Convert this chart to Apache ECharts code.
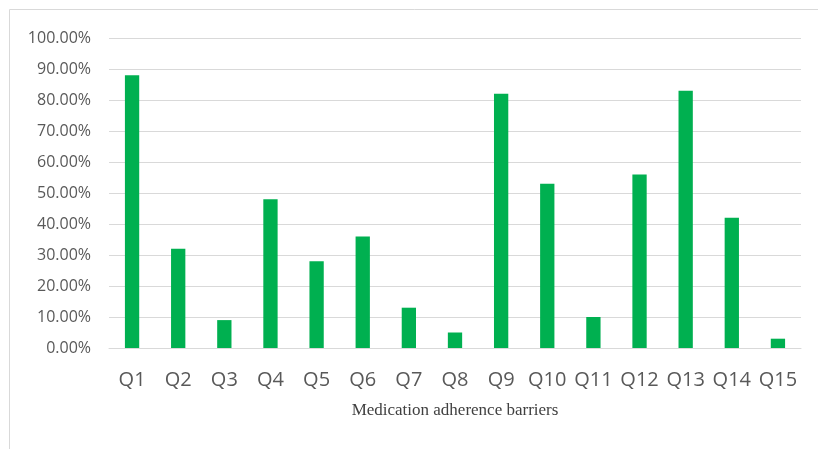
<!DOCTYPE html>
<html><head><meta charset="utf-8">
<script src="https://cdn.jsdelivr.net/npm/echarts@6/dist/echarts.min.js"></script>
<style>html,body{margin:0;padding:0;background:#fff}#c{width:818px;height:449px}</style>
</head><body><div id="c"></div>
<script>
const categories = ['Q1','Q2','Q3','Q4','Q5','Q6','Q7','Q8','Q9','Q10','Q11','Q12','Q13','Q14','Q15'];
const values = [88, 32, 9, 48, 28, 36, 13, 5, 82, 53, 10, 56, 83, 42, 3];
const yTicks = [0, 10, 20, 30, 40, 50, 60, 70, 80, 90, 100];
const xAxisTitle = 'Medication adherence barriers';

const chart = echarts.init(document.getElementById('c'), null, {renderer:'canvas'});
chart.setOption({
  animation: false,
  graphic: [{type:'rect', shape:{x:9.5, y:9.5, width:900, height:600}, style:{fill:'none', stroke:'#d9d9d9', lineWidth:1}, silent:true}],
  grid: {left:109, right:17, top:38, bottom:101, containLabel:false},
  xAxis: {
    type:'category', data: categories,
    axisTick:{show:false},
    axisLine:{lineStyle:{color:'#d9d9d9', width:1}},
    axisLabel:{color:'#595959', fontSize:20, fontFamily:'Open Sans', margin:22, interval:0},
    name: xAxisTitle, nameLocation:'middle', nameGap:54,
    nameTextStyle:{color:'#404040', fontSize:17, fontFamily:'Liberation Serif'}
  },
  yAxis: {
    type:'value', min:yTicks[0], max:yTicks[yTicks.length-1], interval:10,
    axisLine:{show:false}, axisTick:{show:false},
    splitLine:{lineStyle:{color:'#d9d9d9', width:1}},
    axisLabel:{color:'#595959', fontSize:16, fontFamily:'Open Sans', margin:18,
      formatter: v => v.toFixed(2) + '%'}
  },
  series: [{type:'bar', data: values, barWidth:'31%', itemStyle:{color:'#00b050'}}]
});
</script></body></html>
